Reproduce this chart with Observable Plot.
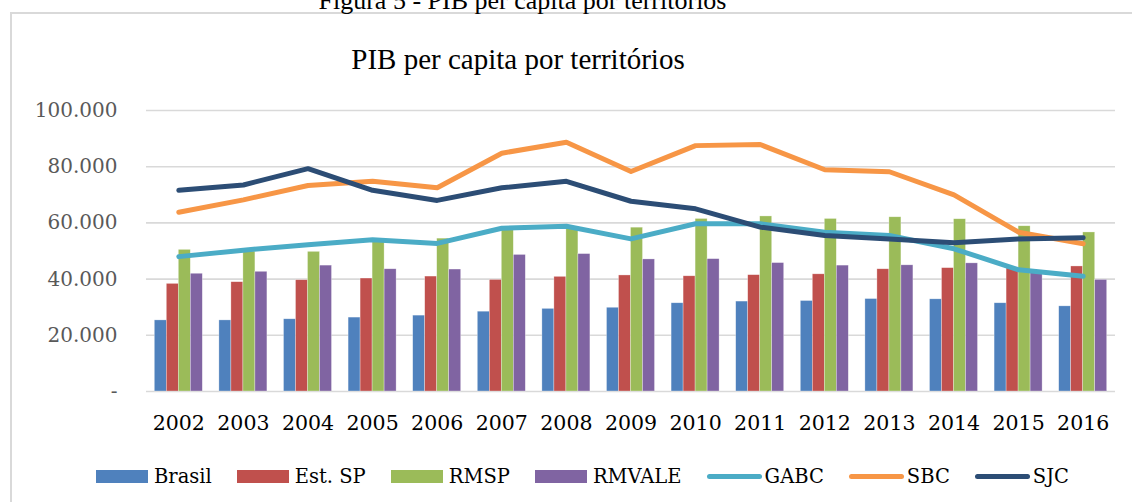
<!DOCTYPE html>
<html>
<head>
<meta charset="utf-8">
<script src="https://cdn.jsdelivr.net/npm/d3@7"></script>
<script src="https://cdn.jsdelivr.net/npm/@observablehq/plot@0.6"></script>
<style>
  html, body { margin: 0; padding: 0; background: #fff; }
  #wrap { position: relative; width: 1132px; height: 502px; overflow: hidden; background: #fff; }
  #frame { position: absolute; left: 10px; top: 12px; width: 1140px; height: 520px; border: 2px solid #d9d9d9; box-sizing: border-box; }
  #caption { position: absolute; left: 0; width: 1045px; top: -12px; line-height: 26px; text-align: center; font-family: "Liberation Serif", serif; font-size: 26px; color: #000; white-space: nowrap; }
  #title { position: absolute; left: 0; width: 1036px; top: 43px; text-align: center; font-family: "Liberation Serif", serif; font-size: 29px; color: #000; }
  #chart { position: absolute; left: 0; top: 90px; }
  #legend { position: absolute; left: 96px; top: 465px; height: 23px; display: flex; align-items: center; font-family: "DejaVu Serif", serif; font-size: 19.5px; color: #000; }
  .item { display: flex; align-items: center; margin-right: 25px; }
  .sw { width: 52px; height: 13px; margin-right: 6px; }
  .ln { width: 55px; height: 5px; border-radius: 3px; margin-right: 3px; }
</style>
</head>
<body>
<div id="wrap">
  <div id="frame"></div>
  <div id="caption">Figura 5 - PIB per capita por territórios</div>
  <div id="title">PIB per capita por territórios</div>
  <div id="chart"></div>
  <div id="legend"></div>
</div>
<script>
// ---- data ----
const years = ["2002","2003","2004","2005","2006","2007","2008","2009","2010","2011","2012","2013","2014","2015","2016"];
const brasil = [25300, 25300, 25700, 26300, 27000, 28400, 29400, 29800, 31400, 32000, 32200, 32900, 32800, 31400, 30300];
const estSP  = [38300, 38900, 39600, 40200, 40900, 39700, 40800, 41300, 41000, 41400, 41700, 43500, 43900, 43800, 44500];
const rmsp   = [50400, 49800, 49700, 53300, 54400, 58200, 58700, 58300, 61400, 62300, 61400, 62000, 61300, 58800, 56600];
const rmvale = [41900, 42600, 44800, 43500, 43400, 48600, 48900, 47000, 47100, 45700, 44800, 44900, 45600, 42200, 39700];
const gabc   = [48000, 50300, 52200, 54000, 52700, 58100, 58800, 54300, 59700, 59700, 56700, 55500, 50800, 43300, 41000];
const sbc    = [63800, 68200, 73300, 74800, 72500, 84800, 88700, 78300, 87500, 87900, 78900, 78200, 70000, 56700, 52600];
const sjc    = [71600, 73500, 79300, 71600, 68000, 72500, 74800, 67700, 65000, 58500, 55500, 54300, 52900, 54300, 54700];
const yTicks = [0, 20000, 40000, 60000, 80000, 100000];

const barSeries = [
  {name: "Brasil", values: brasil, color: "#4F81BD"},
  {name: "Est. SP", values: estSP, color: "#C0504D"},
  {name: "RMSP", values: rmsp, color: "#9BBB59"},
  {name: "RMVALE", values: rmvale, color: "#8064A2"}
];
const lineSeries = [
  {name: "GABC", values: gabc, color: "#4BACC6"},
  {name: "SBC", values: sbc, color: "#F79646"},
  {name: "SJC", values: sjc, color: "#2C4D75"}
];

const W = 1132, ML = 146, MR = 17;
const bw = (W - ML - MR) / years.length;
const barW = 12;
const groupPad = (bw - barW * barSeries.length) / 2;

const loc = d3.formatLocale({decimal: ",", thousands: ".", grouping: [3], currency: ["", ""]});
const fmt = d => d === 0 ? "-" : loc.format(",")(d);

const marks = [Plot.ruleY(yTicks, {stroke: "#d9d9d9", strokeWidth: 1.6})];
barSeries.forEach((s, i) => {
  const rows = years.map((y, j) => ({year: y, value: s.values[j]}));
  marks.push(Plot.barY(rows, {
    x: "year", y: "value", fill: s.color,
    insetLeft: groupPad + i * barW,
    insetRight: bw - groupPad - (i + 1) * barW,
    stroke: "#ffffff", strokeOpacity: 0.5, strokeWidth: 0.6
  }));
});
lineSeries.forEach(s => {
  const rows = years.map((y, j) => ({year: y, value: s.values[j]}));
  marks.push(Plot.line(rows, {
    x: "year", y: "value", stroke: s.color, strokeWidth: 5,
    strokeLinecap: "round", strokeLinejoin: "round"
  }));
});
marks.push(Plot.axisX({tickSize: 0, tickPadding: 23.5, fontSize: 20.5, fill: "#000", label: null}));
marks.push(Plot.axisY(yTicks, {tickSize: 0, tickPadding: 29, tickFormat: fmt, fontSize: 20, fill: "#595959", label: null}));

const chart = Plot.plot({
  width: W, height: 352,
  marginLeft: ML, marginRight: MR, marginTop: 20, marginBottom: 51,
  style: {fontFamily: "DejaVu Serif", background: "transparent", overflow: "visible"},
  x: {type: "band", domain: years, padding: 0, round: false},
  y: {domain: [0, 100000]},
  marks
});
document.getElementById("chart").appendChild(chart);

const legend = document.getElementById("legend");
barSeries.forEach(s => {
  const it = document.createElement("div"); it.className = "item";
  it.innerHTML = `<div class="sw" style="background:${s.color}"></div><span>${s.name}</span>`;
  legend.appendChild(it);
});
lineSeries.forEach(s => {
  const it = document.createElement("div"); it.className = "item";
  it.innerHTML = `<div class="ln" style="background:${s.color}"></div><span>${s.name}</span>`;
  legend.appendChild(it);
});
</script>
</body>
</html>
